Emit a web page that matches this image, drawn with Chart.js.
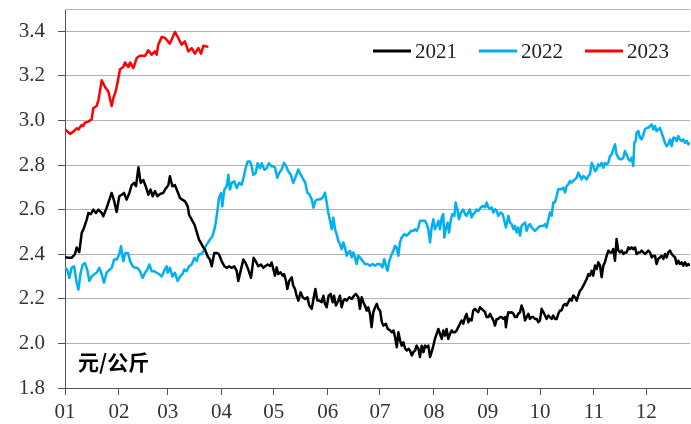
<!DOCTYPE html>
<html lang="zh">
<head>
<meta charset="utf-8"/>
<title>价格走势 2021-2023</title>
<style>
  body, html { margin: 0; padding: 0; background: #fff; }
  #chart { display: block; }
</style>
</head>
<body>
<canvas id="chart" width="691" height="424"></canvas>
<script src="https://cdn.jsdelivr.net/npm/chart.js"></script>
<script>
// 横轴：一年中的第几天（0 = 1月1日），月份刻度
const monthStarts = [0, 31, 59, 90, 120, 151, 181, 212, 243, 273, 304, 334];
const monthLabels = ['01', '02', '03', '04', '05', '06', '07', '08', '09', '10', '11', '12'];
const yTickValues = [1.8, 2.0, 2.2, 2.4, 2.6, 2.8, 3.0, 3.2, 3.4];
const seriesNames = ['2021', '2022', '2023'];
const unitLabel = '元/公斤';

const days2021 = [
  0, 1.9, 3.8, 5.7, 6.7, 8.2, 9.6, 10.9, 12.5, 13.4,
  14.8, 16.3, 17.8, 19.2, 21.1, 22.0, 23.9, 25.5, 26.8, 28.2,
  29.7, 31.2, 32.6, 33.9, 35.4, 37.0, 38.3, 39.7, 40.8, 42.2,
  43.5, 45.0, 46.6, 47.9, 49.2, 50.4, 51.7, 53.1, 54.6, 56.5,
  57.5, 59.4, 60.3, 61.7, 63.2, 64.7, 66.1, 67.4, 69.0, 70.5,
  71.3, 72.8, 74.4, 75.7, 77.0, 78.2, 79.1, 80.5, 82.0, 83.3,
  84.3, 85.8, 87.2, 88.5, 90.0, 91.6, 92.9, 94.3, 95.8, 97.3,
  98.7, 99.6, 101.1, 102.5, 103.8, 105.4, 106.9, 108.4, 109.6, 111.1,
  112.6, 114.0, 115.0, 116.5, 117.8, 118.8, 119.7, 120.7, 121.6, 122.6,
  123.9, 125.1, 125.9, 127.0, 127.8, 128.9, 130.3, 131.2, 132.2, 133.1,
  134.1, 135.4, 136.6, 137.9, 139.3, 140.4, 141.8, 142.8, 143.9, 145.0,
  146.2, 147.5, 148.5, 149.4, 150.4, 151.5, 152.7, 153.8, 154.6, 155.7,
  157.1, 158.0, 159.0, 160.0, 160.9, 161.9, 163.4, 164.8, 166.1, 167.2,
  168.6, 169.5, 170.5, 171.5, 172.4, 173.4, 174.3, 175.3, 176.2, 177.2,
  178.2, 179.2, 180.1, 181.1, 182.1, 183.0, 184.4, 185.5, 186.9, 187.8,
  188.8, 189.7, 190.7, 191.6, 192.6, 193.5, 194.5, 195.5, 196.4, 197.4,
  198.3, 199.3, 200.2, 201.2, 202.1, 203.1, 204.0, 205.0, 206.0, 206.9,
  207.9, 208.8, 209.8, 210.7, 211.7, 212.6, 213.6, 214.6, 215.5, 216.5,
  217.4, 218.4, 219.3, 220.3, 221.3, 222.2, 223.2, 224.1, 225.1, 226.0,
  227.0, 227.9, 228.9, 229.9, 230.8, 231.8, 232.7, 233.7, 234.6, 235.6,
  236.5, 237.5, 238.5, 240.4, 241.4, 242.3, 243.3, 244.3, 245.2, 246.2,
  247.1, 248.1, 249.0, 250.0, 250.9, 251.9, 252.9, 253.4, 254.2, 254.8,
  255.7, 256.7, 257.7, 258.6, 259.6, 260.5, 261.5, 262.4, 263.4, 264.4,
  265.3, 266.3, 267.2, 268.2, 269.1, 270.1, 271.1, 272.0, 273.0, 273.9,
  274.9, 275.9, 276.8, 277.8, 278.7, 279.7, 280.6, 281.6, 282.6, 283.5,
  284.5, 285.4, 286.4, 287.4, 288.3, 289.3, 290.2, 291.2, 292.1, 293.1,
  294.1, 295.0, 296.0, 296.9, 297.9, 298.9, 299.8, 300.8, 301.7, 302.7,
  303.6, 304.6, 305.6, 306.5, 307.5, 308.4, 309.4, 310.3, 311.3, 312.3,
  313.2, 314.2, 315.1, 316.1, 317.0, 318.0, 319.0, 319.9, 320.9, 321.8,
  322.8, 323.8, 324.7, 325.7, 326.6, 327.6, 328.5, 329.5, 330.5, 331.4,
  332.4, 333.3, 334.3, 335.2, 336.2, 337.2, 338.1, 339.1, 340.0, 341.0,
  341.9, 342.9, 343.9, 344.8, 345.8, 346.7, 347.7, 348.7, 349.6, 350.6,
  351.5, 352.5, 353.4, 354.4, 355.4, 356.3, 357.3, 358.2, 359.2
];
const price2021 = [
  2.387, 2.384, 2.384, 2.40, 2.43, 2.41, 2.495, 2.518, 2.555, 2.585,
  2.58, 2.60, 2.585, 2.60, 2.585, 2.57, 2.607, 2.645, 2.675, 2.64,
  2.59, 2.66, 2.667, 2.675, 2.645, 2.675, 2.71, 2.72, 2.705, 2.79,
  2.72, 2.733, 2.70, 2.667, 2.69, 2.66, 2.683, 2.66, 2.67, 2.675,
  2.69, 2.71, 2.75, 2.705, 2.71, 2.68, 2.652, 2.645, 2.637, 2.615,
  2.577, 2.555, 2.533, 2.50, 2.466, 2.45, 2.436, 2.42, 2.39, 2.376,
  2.346, 2.406, 2.406, 2.40, 2.369, 2.346, 2.339, 2.346, 2.339, 2.346,
  2.324, 2.28, 2.331, 2.376, 2.361, 2.33, 2.294, 2.384, 2.369, 2.346,
  2.354, 2.339, 2.346, 2.354, 2.348, 2.363, 2.334, 2.304, 2.341, 2.311,
  2.319, 2.304, 2.311, 2.281, 2.244, 2.281, 2.296, 2.259, 2.244, 2.214,
  2.192, 2.229, 2.207, 2.199, 2.207, 2.17, 2.155, 2.199, 2.244, 2.192,
  2.192, 2.185, 2.214, 2.177, 2.162, 2.214, 2.222, 2.185, 2.214, 2.17,
  2.192, 2.214, 2.162, 2.192, 2.199, 2.192, 2.207, 2.199, 2.214, 2.222,
  2.207, 2.155, 2.207, 2.185, 2.17, 2.147, 2.162, 2.132, 2.073, 2.14,
  2.162, 2.177, 2.155, 2.147, 2.095, 2.08, 2.088, 2.065, 2.058, 2.05,
  2.058, 2.028, 1.983, 2.05, 2.013, 1.99, 2.005, 1.976, 1.968, 1.976,
  1.968, 1.946, 1.961, 1.968, 1.99, 1.976, 1.939, 1.99, 1.961, 1.99,
  1.983, 1.99, 1.939, 1.961, 1.99, 2.02, 2.043, 2.065, 2.043, 2.02,
  2.058, 2.035, 2.065, 2.02, 2.043, 2.058, 2.05, 2.05, 2.058, 2.073,
  2.088, 2.103, 2.088, 2.117, 2.132, 2.095, 2.11, 2.103, 2.147, 2.155,
  2.147, 2.14, 2.162, 2.148, 2.14, 2.118, 2.118, 2.133, 2.118, 2.103,
  2.08, 2.11, 2.11, 2.118, 2.118, 2.11, 2.118, 2.073, 2.118, 2.14,
  2.137, 2.14, 2.133, 2.118, 2.118, 2.133, 2.14, 2.17, 2.148, 2.103,
  2.118, 2.133, 2.11, 2.118, 2.118, 2.11, 2.11, 2.095, 2.103, 2.155,
  2.14, 2.125, 2.11, 2.125, 2.118, 2.11, 2.125, 2.11, 2.11, 2.133,
  2.148, 2.148, 2.17, 2.177, 2.17, 2.185, 2.2, 2.192, 2.215, 2.207,
  2.192, 2.215, 2.237, 2.244, 2.259, 2.274, 2.289, 2.311, 2.304, 2.326,
  2.304, 2.349, 2.334, 2.364, 2.349, 2.297, 2.349, 2.364, 2.394, 2.416,
  2.408, 2.408, 2.423, 2.371, 2.468, 2.416, 2.408, 2.416, 2.401, 2.408,
  2.408, 2.431, 2.423, 2.431, 2.423, 2.431, 2.401, 2.408, 2.408, 2.416,
  2.408, 2.401, 2.408, 2.416, 2.408, 2.386, 2.393, 2.393, 2.356, 2.379,
  2.386, 2.393, 2.379, 2.401, 2.386, 2.408, 2.416, 2.401, 2.393, 2.386,
  2.356, 2.371, 2.356, 2.364, 2.349, 2.364, 2.349, 2.356, 2.349
];

const days2022 = [
  0, 1.3, 2.5, 3.8, 5.2, 6.7, 7.7, 9.0, 10.2, 11.5,
  12.8, 14.0, 15.3, 16.7, 18.2, 19.7, 21.1, 22.4, 23.9, 25.5,
  26.8, 28.2, 29.7, 31.2, 32.2, 33.5, 34.7, 36.2, 37.4, 38.9,
  40.2, 41.6, 43.1, 44.6, 46.0, 47.3, 48.5, 49.8, 51.1, 52.7,
  54.2, 55.6, 56.9, 58.4, 59.0, 60.3, 61.7, 63.2, 64.7, 66.1,
  67.4, 68.6, 69.9, 71.3, 72.8, 74.4, 75.7, 77.0, 78.2, 79.5,
  80.9, 82.0, 83.3, 84.7, 85.8, 86.6, 87.7, 88.5, 89.7, 90.4,
  91.6, 92.9, 93.9, 94.8, 95.8, 97.3, 98.7, 100.0, 101.5, 102.5,
  103.8, 105.0, 106.3, 107.3, 108.2, 109.6, 110.7, 112.1, 113.0, 114.6,
  115.9, 117.2, 118.8, 119.4, 120.7, 122.0, 123.2, 124.5, 125.9, 127.0,
  128.3, 129.7, 131.2, 132.7, 134.1, 135.4, 137.0, 138.1, 139.3, 140.4,
  141.8, 142.8, 143.9, 145.0, 146.6, 148.1, 149.4, 150.4, 151.3, 152.3,
  153.3, 154.2, 155.2, 156.1, 157.1, 158.0, 159.0, 160.0, 160.9, 161.9,
  162.8, 163.8, 164.8, 165.7, 166.7, 167.6, 168.6, 169.5, 171.1, 172.4,
  173.8, 175.3, 176.8, 178.2, 179.5, 181.0, 182.4, 183.5, 184.9, 185.4,
  186.2, 187.4, 188.7, 189.7, 190.6, 191.6, 192.5, 193.5, 195.0, 196.4,
  197.3, 198.9, 200.2, 201.1, 202.1, 203.1, 204.0, 205.4, 206.9, 207.9,
  208.8, 209.8, 210.7, 211.7, 212.6, 213.6, 214.6, 215.5, 216.5, 217.4,
  218.0, 218.8, 219.9, 220.7, 221.8, 222.6, 223.8, 224.5, 225.7, 226.4,
  227.6, 228.9, 229.9, 230.8, 231.8, 232.7, 233.7, 234.6, 235.6, 236.5,
  237.5, 239.0, 240.4, 241.4, 242.3, 243.3, 244.3, 245.2, 246.2, 247.1,
  248.1, 249.0, 250.4, 251.5, 252.3, 253.4, 254.8, 255.7, 256.7, 257.7,
  258.6, 259.6, 260.5, 261.5, 262.4, 263.4, 264.4, 265.3, 266.3, 267.2,
  268.2, 269.1, 270.1, 271.1, 272.0, 273.0, 273.9, 274.9, 275.9, 276.8,
  277.8, 278.7, 279.7, 280.6, 281.6, 282.6, 283.5, 284.5, 285.4, 286.4,
  287.4, 288.3, 289.3, 290.2, 291.2, 292.1, 293.1, 294.1, 295.0, 296.0,
  296.9, 297.9, 298.9, 299.8, 300.8, 301.7, 302.7, 303.6, 304.6, 305.6,
  306.5, 307.5, 308.4, 309.4, 310.3, 311.3, 312.3, 313.2, 314.2, 315.1,
  316.1, 317.0, 318.0, 319.0, 319.9, 320.9, 321.8, 322.8, 323.8, 324.7,
  325.7, 326.6, 327.2, 328.0, 328.5, 329.5, 330.5, 331.4, 332.4, 333.3,
  334.3, 335.2, 336.2, 337.2, 338.1, 339.1, 340.0, 341.0, 341.9, 342.9,
  343.9, 344.8, 345.8, 346.7, 347.7, 348.7, 349.6, 350.6, 351.5, 352.5,
  353.4, 354.4, 355.4, 356.3, 357.3, 358.2, 359.2
];
const price2022 = [
  2.339, 2.331, 2.294, 2.339, 2.346, 2.272, 2.242, 2.317, 2.354, 2.36,
  2.33, 2.28, 2.30, 2.31, 2.317, 2.339, 2.31, 2.272, 2.317, 2.33,
  2.339, 2.376, 2.376, 2.40, 2.436, 2.369, 2.406, 2.406, 2.369, 2.346,
  2.339, 2.339, 2.324, 2.294, 2.317, 2.331, 2.354, 2.324, 2.324, 2.317,
  2.31, 2.30, 2.324, 2.346, 2.317, 2.339, 2.30, 2.317, 2.28, 2.30,
  2.31, 2.331, 2.324, 2.346, 2.354, 2.384, 2.369, 2.40, 2.40, 2.413,
  2.436, 2.45, 2.466, 2.48, 2.51, 2.54, 2.60, 2.652, 2.675, 2.615,
  2.69, 2.704, 2.756, 2.69, 2.72, 2.727, 2.697, 2.72, 2.712, 2.74,
  2.786, 2.816, 2.816, 2.794, 2.756, 2.764, 2.808, 2.786, 2.808, 2.779,
  2.786, 2.808, 2.794, 2.796, 2.788, 2.743, 2.766, 2.78, 2.81, 2.796,
  2.773, 2.758, 2.72, 2.75, 2.78, 2.758, 2.736, 2.72, 2.676, 2.669,
  2.646, 2.609, 2.639, 2.646, 2.646, 2.654, 2.676, 2.632, 2.587, 2.55,
  2.512, 2.564, 2.512, 2.49, 2.46, 2.445, 2.423, 2.453, 2.43, 2.393,
  2.408, 2.415, 2.386, 2.408, 2.386, 2.356, 2.393, 2.386, 2.37, 2.356,
  2.356, 2.348, 2.356, 2.348, 2.356, 2.356, 2.341, 2.378, 2.334, 2.326,
  2.363, 2.393, 2.415, 2.438, 2.43, 2.393, 2.453, 2.475, 2.49, 2.483,
  2.49, 2.505, 2.505, 2.512, 2.505, 2.52, 2.55, 2.55, 2.55, 2.535,
  2.512, 2.453, 2.52, 2.557, 2.512, 2.527, 2.55, 2.512, 2.565, 2.58,
  2.475, 2.512, 2.542, 2.497, 2.557, 2.58, 2.572, 2.632, 2.595, 2.557,
  2.587, 2.60, 2.58, 2.572, 2.587, 2.60, 2.565, 2.58, 2.587, 2.60,
  2.595, 2.61, 2.617, 2.61, 2.632, 2.61, 2.602, 2.61, 2.587, 2.602,
  2.595, 2.572, 2.587, 2.58, 2.557, 2.52, 2.572, 2.542, 2.535, 2.513,
  2.527, 2.498, 2.52, 2.483, 2.527, 2.535, 2.542, 2.505, 2.527, 2.535,
  2.52, 2.513, 2.505, 2.513, 2.52, 2.527, 2.527, 2.527, 2.535, 2.52,
  2.557, 2.587, 2.572, 2.632, 2.632, 2.662, 2.692, 2.692, 2.692, 2.699,
  2.677, 2.706, 2.714, 2.729, 2.721, 2.729, 2.736, 2.744, 2.766, 2.751,
  2.736, 2.751, 2.744, 2.736, 2.751, 2.759, 2.81, 2.796, 2.773, 2.781,
  2.803, 2.796, 2.81, 2.788, 2.81, 2.803, 2.81, 2.84, 2.848, 2.87,
  2.893, 2.848, 2.833, 2.826, 2.826, 2.833, 2.863, 2.848, 2.826, 2.818,
  2.833, 2.796, 2.90, 2.908, 2.945, 2.952, 2.922, 2.915, 2.937, 2.96,
  2.967, 2.967, 2.975, 2.982, 2.96, 2.975, 2.952, 2.96, 2.967, 2.945,
  2.922, 2.90, 2.885, 2.893, 2.915, 2.885, 2.922, 2.922, 2.908, 2.93,
  2.915, 2.908, 2.915, 2.90, 2.908, 2.893, 2.90
];

const days2023 = [
  0, 2.9, 4.8, 6.7, 7.7, 9.6, 10.5, 11.5, 13.4, 15.3,
  16.3, 18.2, 19.2, 21.1, 23.0, 24.9, 26.8, 27.8, 29.3, 30.7,
  31.6, 33.5, 34.5, 36.4, 37.4, 39.3, 41.2, 43.1, 46.0, 47.9,
  49.8, 51.7, 52.7, 53.6, 55.6, 57.5, 60.3, 63.2, 65.1, 67.0,
  68.9, 70.9, 72.8, 74.7, 76.6, 78.2, 79.5, 82.4
];
const price2023 = [
  2.96, 2.94, 2.95, 2.965, 2.96, 2.98, 2.975, 2.99, 2.995, 3.005,
  3.055, 3.065, 3.09, 3.18, 3.15, 3.13, 3.065, 3.1, 3.135, 3.19,
  3.23, 3.24, 3.26, 3.24, 3.26, 3.235, 3.28, 3.29, 3.29, 3.315,
  3.295, 3.31, 3.295, 3.34, 3.375, 3.37, 3.345, 3.397, 3.37, 3.34,
  3.355, 3.31, 3.325, 3.30, 3.325, 3.30, 3.335, 3.33
];

const colors = ['#000000', '#00B0F0', '#FF0000'];
const tickFont = { family: "'Liberation Serif', serif", size: 21 };

function toPoints(days, values) {
  return days.map((d, i) => ({ x: d, y: values[i] }));
}

// 图内图例、单位和上边框
const overlay = {
  id: 'overlay',
  afterDraw(chart) {
    const { ctx, chartArea: a } = chart;
    ctx.save();
    ctx.strokeStyle = '#b8b8b8';
    ctx.lineWidth = 1;
    ctx.beginPath();
    ctx.moveTo(a.left, a.top + 0.5);
    ctx.lineTo(a.right, a.top + 0.5);
    ctx.stroke();

    ctx.fillStyle = '#000';
    ctx.textBaseline = 'middle';
    ctx.font = "bold 21px 'Noto Sans CJK SC', sans-serif";
    ctx.fillText(unitLabel, a.left + 13, a.bottom - 26);

    ctx.font = "21px 'Liberation Serif', serif";
    let x = a.left + 308;
    const y = a.top + 42;
    chart.data.datasets.forEach(ds => {
      ctx.strokeStyle = ds.borderColor;
      ctx.lineWidth = 3;
      ctx.beginPath();
      ctx.moveTo(x, y);
      ctx.lineTo(x + 38, y);
      ctx.stroke();
      ctx.fillStyle = '#222';
      ctx.fillText(ds.label, x + 42, y + 1);
      x += 42 + ctx.measureText(ds.label).width + 22;
    });
    ctx.restore();
  }
};

new Chart(document.getElementById('chart'), {
  type: 'line',
  data: {
    datasets: [
      { label: seriesNames[0], data: toPoints(days2021, price2021), borderColor: colors[0] },
      { label: seriesNames[1], data: toPoints(days2022, price2022), borderColor: colors[1] },
      { label: seriesNames[2], data: toPoints(days2023, price2023), borderColor: colors[2] }
    ]
  },
  options: {
    responsive: false,
    animation: false,
    devicePixelRatio: 1,
    layout: { padding: { top: 9, right: 1, left: 0, bottom: 0 } },
    elements: {
      point: { radius: 0 },
      line: { borderWidth: 2.5, tension: 0, borderJoinStyle: 'round' }
    },
    plugins: {
      legend: { display: false },
      tooltip: { enabled: false }
    },
    scales: {
      x: {
        type: 'linear',
        min: 0,
        max: 359.2,
        afterFit: s => { s.height = 36; s.paddingLeft = 0; s.paddingRight = 0; },
        afterBuildTicks: s => { s.ticks = monthStarts.map(v => ({ value: v })); },
        ticks: {
          autoSkip: false,
          maxRotation: 0,
          padding: 5,
          color: '#333',
          font: tickFont,
          callback: (v, i) => monthLabels[i]
        },
        grid: { drawOnChartArea: false, drawTicks: true, tickLength: 7, tickColor: '#555', tickWidth: 1 },
        border: { color: '#555', width: 1 }
      },
      y: {
        min: 1.8,
        max: 3.5,
        afterFit: s => { s.width = 65; s.paddingTop = 0; s.paddingBottom = 0; },
        afterBuildTicks: s => { s.ticks = yTickValues.map(v => ({ value: v })); },
        ticks: {
          padding: 13,
          color: '#333',
          font: tickFont,
          callback: v => v.toFixed(1)
        },
        grid: { color: '#b3b3b3', lineWidth: 1, tickLength: 7, tickColor: '#555', tickWidth: 1 },
        border: { color: '#555', width: 1 }
      }
    }
  },
  plugins: [overlay]
});
</script>
</body>
</html>
